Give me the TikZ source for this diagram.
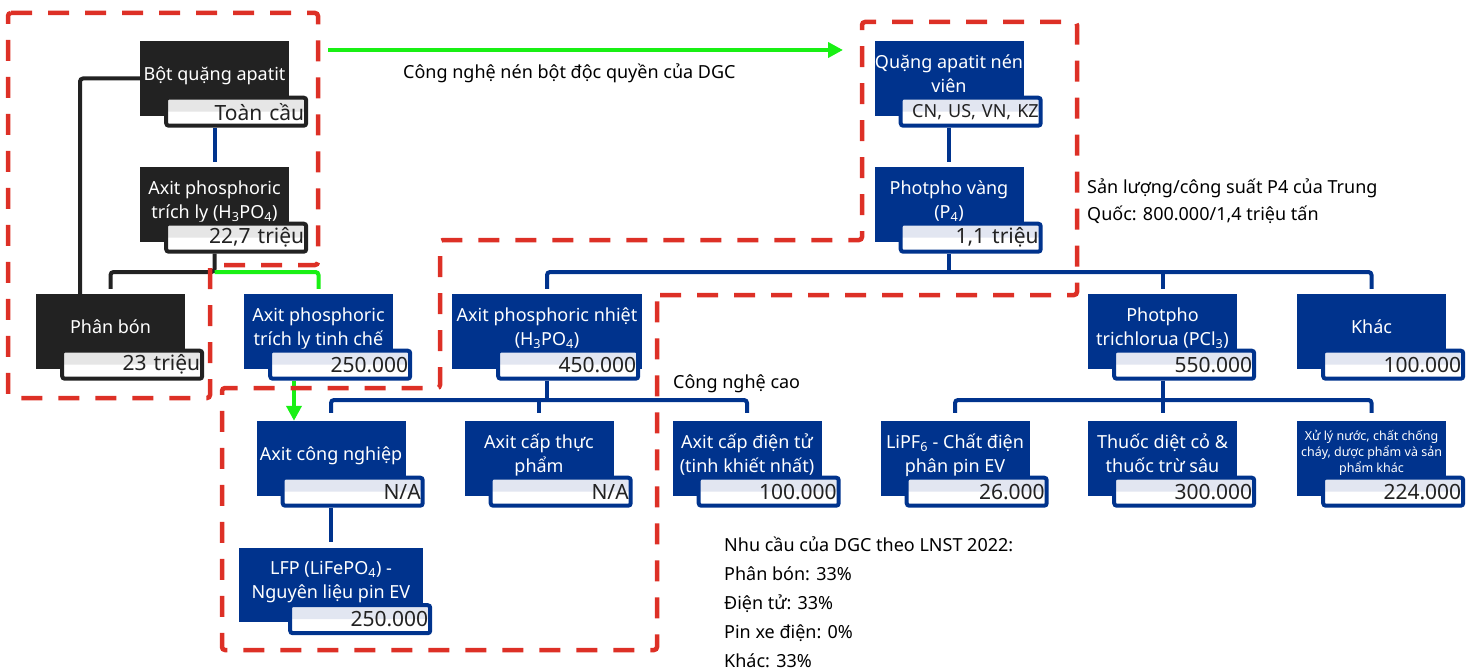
\documentclass[tikz,border=0pt]{standalone}
\usepackage{fontspec}
\setmainfont{Noto Sans}
\usetikzlibrary{positioning,arrows.meta}

\definecolor{dgcblue}{RGB}{0,51,141}
\definecolor{dgcblack}{RGB}{34,34,34}
\definecolor{dgcred}{RGB}{221,48,38}
\definecolor{dgcgreen}{RGB}{25,240,20}
\definecolor{blueshade}{RGB}{226,230,241}
\definecolor{greyshade}{RGB}{230,230,230}
\definecolor{valtext}{RGB}{34,34,34}

\newcommand*{\BoxFont}{\fontsize{18}{24}\selectfont}
\newcommand*{\SmallBoxFont}{\fontsize{12.5}{16}\selectfont}
\newcommand*{\BarFont}{\fontsize{21}{24}\selectfont}
\newcommand*{\NoteFont}{\fontsize{18}{27}\selectfont}

\tikzset{
  blackbox/.style={fill=dgcblack, text=white, minimum width=149pt, minimum height=75pt,
    inner sep=0pt, align=center, font=\BoxFont, text depth=10pt},
  bluebox/.style={blackbox, fill=dgcblue},
  blackbar/.style={draw=dgcblack, fill=white, line width=4pt, rounded corners=2.5pt,
    minimum width=140pt, minimum height=28pt, text width=136pt, inner xsep=2pt,
    inner ysep=0pt, align=right, anchor=south east, text=valtext, font=\BarFont,
    path picture={\fill[greyshade] (path picture bounding box.north west)
      rectangle (path picture bounding box.east);}},
  bluebar/.style={blackbar, draw=dgcblue,
    path picture={\fill[blueshade] (path picture bounding box.north west)
      rectangle (path picture bounding box.east);}},
  darkline/.style={draw=dgcblack, line width=4pt, rounded corners=3pt},
  blueline/.style={draw=dgcblue, line width=4pt, rounded corners=3pt},
  greenline/.style={draw=dgcgreen, line width=4pt, rounded corners=3pt},
  greenarrow/.style={greenline, -{Triangle[length=15pt,width=15pt]}},
  redzone/.style={draw=dgcred, line width=4.5pt, dash pattern=on 21pt off 16pt,
    rounded corners=3pt},
  note/.style={font=\NoteFont, align=left, inner sep=0pt, anchor=base west}
}

\begin{document}
\begin{tikzpicture}[x=1pt, y=-1pt]
    \useasboundingbox (0,0) rectangle (1479,671);

    % left part: black boxes
    \node[blackbox] (apatit) at (214.5,78.5) {Bột quặng apatit};
    \node[blackbar] (apatitV) at ([xshift=19pt,yshift=-11.5pt]apatit.south east) {Toàn cầu};
    \node[blackbox] (trichly) at (214.5,204.5) {Axit phosphoric\\trích ly (H\textsubscript{3}PO\textsubscript{4})};
    \node[blackbar] (trichlyV) at ([xshift=19pt,yshift=-11.5pt]trichly.south east) {22,7 triệu};
    \node[blackbox] (phanbon) at (110.5,331.5) {Phân bón};
    \node[blackbar] (phanbonV) at ([xshift=19pt,yshift=-11.5pt]phanbon.south east) {23 triệu};
    \node[bluebox] (tinhche) at (318.5,331.5) {Axit phosphoric\\trích ly tinh chế};
    \node[bluebar] (tinhcheV) at ([xshift=19pt,yshift=-11.5pt]tinhche.south east) {250.000};

    % phosphorus branch
    \node[bluebox] (quang) at (949,78.5) {Quặng apatit nén\\viên};
    \node[bluebar, font=\BoxFont] (quangV) at ([xshift=19pt,yshift=-11.5pt]quang.south east) {CN, US, VN, KZ};
    \node[bluebox] (vang) at (949,204.5) {Photpho vàng\\(P\textsubscript{4})};
    \node[bluebar] (vangV) at ([xshift=19pt,yshift=-11.5pt]vang.south east) {1,1 triệu};

    \node[bluebox, minimum width=190pt] (nhiet) at (547,331.5) {Axit phosphoric nhiệt\\(H\textsubscript{3}PO\textsubscript{4})};
    \node[bluebar] (nhietV) at ([xshift=-2pt,yshift=-11.5pt]nhiet.south east) {450.000};
    \node[bluebox] (pcl) at (1162.5,331.5) {Photpho\\trichlorua (PCl\textsubscript{3})};
    \node[bluebar] (pclV) at ([xshift=19pt,yshift=-11.5pt]pcl.south east) {550.000};
    \node[bluebox] (khac) at (1371.5,331.5) {Khác};
    \node[bluebar] (khacV) at ([xshift=19pt,yshift=-11.5pt]khac.south east) {100.000};

    % end products
    \node[bluebox] (congnghiep) at (331,458.5) {Axit công nghiệp};
    \node[bluebar] (congnghiepV) at ([xshift=19pt,yshift=-11.5pt]congnghiep.south east) {N/A};
    \node[bluebox] (thucpham) at (539,458.5) {Axit cấp thực\\phẩm};
    \node[bluebar] (thucphamV) at ([xshift=19pt,yshift=-11.5pt]thucpham.south east) {N/A};
    \node[bluebox] (dientu) at (747,458.5) {Axit cấp điện tử\\(tinh khiết nhất)};
    \node[bluebar] (dientuV) at ([xshift=19pt,yshift=-11.5pt]dientu.south east) {100.000};
    \node[bluebox] (lipf) at (955,458.5) {LiPF\textsubscript{6} - Chất điện\\phân pin EV};
    \node[bluebar] (lipfV) at ([xshift=19pt,yshift=-11.5pt]lipf.south east) {26.000};
    \node[bluebox] (thuoc) at (1162.5,458.5) {Thuốc diệt cỏ \&\\thuốc trừ sâu};
    \node[bluebar] (thuocV) at ([xshift=19pt,yshift=-11.5pt]thuoc.south east) {300.000};
    \node[bluebox, font=\SmallBoxFont, text depth=14pt] (xuly) at (1371.5,458.5) {Xử lý nước, chất chống\\cháy, dược phẩm và sản\\phẩm khác};
    \node[bluebar] (xulyV) at ([xshift=19pt,yshift=-11.5pt]xuly.south east) {224.000};
    \node[bluebox, minimum width=184pt, minimum height=74pt] (lfp) at (331,585) {LFP (LiFePO\textsubscript{4}) -\\Nguyên liệu pin EV};
    \node[bluebar] (lfpV) at ([xshift=9pt,yshift=-13pt]lfp.south east) {250.000};

    % connectors
    \coordinate (nenA) at (328,50);
    \coordinate (nenB) at (843,50);
    \coordinate (trichJ) at (214.5,272);
    \coordinate (vangJ) at (949,272);
    \coordinate (nhietJ) at (547,400);
    \coordinate (pclJ) at (1162.5,400);
    \coordinate (greenX) at (294,0);

    \draw[darkline] (apatit.west) -| ([xshift=-30.5pt]phanbon.north);
    \draw[blueline] (apatitV.south -| apatit.south) -- ([yshift=5pt]trichly.north);
    \draw[darkline] (trichlyV.south -| trichly.south) -- (trichJ) -| ([yshift=5pt]phanbon.north);
    \draw[greenline] (trichJ) -| ([yshift=5pt]tinhche.north);
    \draw[greenarrow] (nenA) -- (nenB);
    \draw[greenarrow] (tinhcheV.south -| greenX) -- (congnghiep.north -| greenX);

    \draw[blueline] (quangV.south -| quang.south) -- ([yshift=5pt]vang.north);
    \draw[blueline] (vangV.south -| vang.south) -- (vangJ);
    \draw[blueline] ([yshift=5pt]nhiet.north) |- (vangJ) -| ([yshift=5pt]khac.north);
    \draw[blueline] (vangJ -| pcl.north) -- ([yshift=5pt]pcl.north);

    \draw[blueline] (nhietV.south -| nhiet.south) -- (nhietJ);
    \draw[blueline] ([yshift=8pt]congnghiep.north) |- (nhietJ) -| ([yshift=8pt]dientu.north);
    \draw[blueline] (nhietJ -| thucpham.north) -- ([yshift=8pt]thucpham.north);
    \draw[blueline] (pclV.south -| pcl.south) -- ([yshift=8pt]thuoc.north);
    \draw[blueline] ([yshift=8pt]lipf.north) |- (pclJ) -| ([yshift=8pt]xuly.north);
    \draw[blueline] (congnghiepV.south -| congnghiep.south) -- ([yshift=6pt]lfp.north);

    % notes
    \node[note] (nenLbl) at (403,79) {Công nghệ nén bột độc quyền của DGC};
    \node[note] (p4Lbl) at (1087,220) {Sản lượng/công suất P4 của Trung\\Quốc: 800.000/1,4 triệu tấn};
    \node[note] (caoLbl) at (673,388) {Công nghệ cao};
    \node[note, font=\fontsize{18}{29}\selectfont] (demandLbl) at (724,667) {Nhu cầu của DGC theo LNST 2022:\\Phân bón: 33\%\\Điện tử: 33\%\\Pin xe điện: 0\%\\Khác: 33\%};

    % DGC zones
    \draw[redzone] (8,13) -- (318,13) -- (318,265) -- (210,265) -- (210,398) -- (8,398) -- cycle;
    \draw[redzone] (657,295) -- (1077,295) -- (1077,22) -- (862,22) -- (862,240) -- (440,240)
        -- (440,388) -- (222,388) -- (222,650) -- (657,650) -- cycle;
\end{tikzpicture}
\end{document}
